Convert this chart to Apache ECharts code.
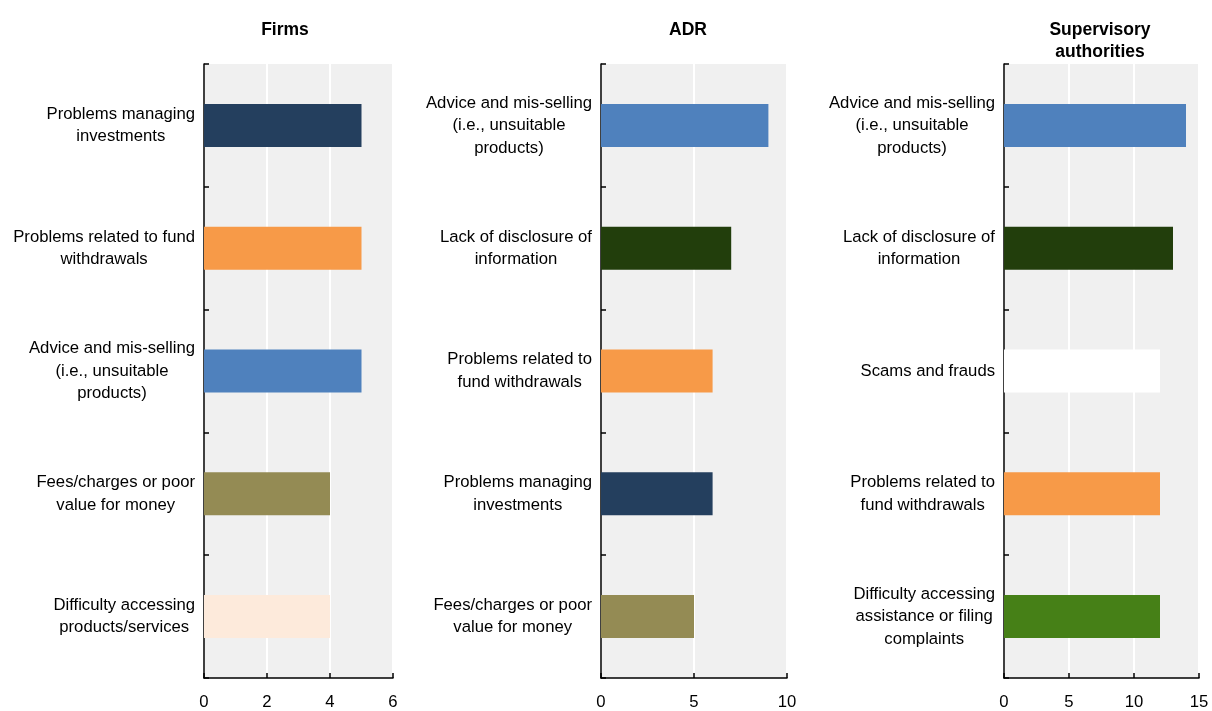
<!DOCTYPE html>
<html>
<head>
<meta charset="utf-8">
<script src="https://cdn.jsdelivr.net/npm/echarts@6/dist/echarts.min.js"></script>
<style>
html,body{margin:0;padding:0;background:#fff;}
#c{width:1212px;height:711px;}
</style>
</head>
<body>
<div id="c"></div>
<script>
// ---- Data ----
const panelTitles = ['Firms', 'ADR', 'Supervisory\nauthorities'];

const firmsCategories = [
  'Problems managing\ninvestments',
  'Problems related to fund\nwithdrawals',
  'Advice and mis-selling\n(i.e., unsuitable\nproducts)',
  'Fees/charges or poor\nvalue for money',
  'Difficulty accessing\nproducts/services'
];
const firmsValues = [5, 5, 5, 4, 4];

const adrCategories = [
  'Advice and mis-selling\n(i.e., unsuitable\nproducts)',
  'Lack of disclosure of\ninformation',
  'Problems related to\nfund withdrawals',
  'Problems managing\ninvestments',
  'Fees/charges or poor\nvalue for money'
];
const adrValues = [9, 7, 6, 6, 5];

const supCategories = [
  'Advice and mis-selling\n(i.e., unsuitable\nproducts)',
  'Lack of disclosure of\ninformation',
  'Scams and frauds',
  'Problems related to\nfund withdrawals',
  'Difficulty accessing\nassistance or filing\ncomplaints'
];
const supValues = [14, 13, 12, 12, 12];

const axisMax = [6, 10, 15];
const axisInterval = [2, 5, 5];

// ---- Styles ----
const colorOf = function (cat) {
  const k = cat.replace(/\n/g, ' ');
  if (k.indexOf('Problems managing') === 0) return '#243F5E';
  if (k.indexOf('Problems related') === 0) return '#F79A48';
  if (k.indexOf('Advice') === 0) return '#4F81BD';
  if (k.indexOf('Fees') === 0) return '#948B54';
  if (k.indexOf('Difficulty accessing products') === 0) return '#FDEADB';
  if (k.indexOf('Lack of disclosure') === 0) return '#223E0C';
  if (k.indexOf('Scams') === 0) return '#FFFFFF';
  if (k.indexOf('Difficulty accessing assistance') === 0) return '#468017';
  return '#999';
};

const FONT = '"Liberation Sans", Arial, sans-serif';
const LABEL_SIZE = 16.7;
const panels = [
  {cats: firmsCategories, vals: firmsValues, left: 204, width: 189, titleX: 280},
  {cats: adrCategories, vals: adrValues, left: 601, width: 186, titleX: 683},
  {cats: supCategories, vals: supValues, left: 1004, width: 195, titleX: 1095}
];

const grids = [], xAxes = [], yAxes = [], series = [], titles = [];
panels.forEach(function (p, i) {
  grids.push({left: p.left, width: p.width, top: 64, bottom: 33, show: true,
    backgroundColor: '#F0F0F0', borderWidth: 0, containLabel: false});
  titles.push({text: panelTitles[i], left: p.titleX, top: 14,
    textAlign: 'center',
    textStyle: {fontFamily: FONT, fontSize: 17.5, fontWeight: 'bold', color: '#000', lineHeight: 22}});
  xAxes.push({type: 'value', gridIndex: i, min: 0, max: axisMax[i], interval: axisInterval[i],
    axisLine: {show: true, lineStyle: {color: '#000', width: 1.5}},
    axisTick: {show: true, inside: true, length: 5, lineStyle: {color: '#000', width: 1.5}},
    axisLabel: {fontFamily: FONT, fontSize: LABEL_SIZE, color: '#000', margin: 16},
    splitLine: {show: true, lineStyle: {color: '#FFFFFF', width: 2}}});
  yAxes.push({type: 'category', gridIndex: i, data: p.cats, inverse: true,
    axisLine: {show: true, lineStyle: {color: '#000', width: 1.5}},
    axisTick: {show: true, inside: true, length: 5, lineStyle: {color: '#000', width: 1.5}},
    splitLine: {show: false},
    axisLabel: {margin: 9, align: 'right', fontFamily: FONT, fontSize: LABEL_SIZE, color: '#000',
      formatter: function (v) {
        return v.split('\n').map(function (l) { return '{c|' + l + '}'; }).join('\n');
      },
      rich: {c: {align: 'center', fontFamily: FONT, fontSize: LABEL_SIZE, color: '#000', lineHeight: 22.5}}}});
  series.push({type: 'bar', xAxisIndex: i, yAxisIndex: i, barCategoryGap: '65%',
    data: p.vals.map(function (v, j) { return {value: v, itemStyle: {color: colorOf(p.cats[j])}}; }),
    animation: false, z: 3});
});

const chart = echarts.init(document.getElementById('c'), null, {renderer: 'canvas'});
chart.setOption({
  animation: false,
  backgroundColor: '#fff',
  title: titles,
  grid: grids,
  xAxis: xAxes,
  yAxis: yAxes,
  series: series
});
</script>
</body>
</html>
